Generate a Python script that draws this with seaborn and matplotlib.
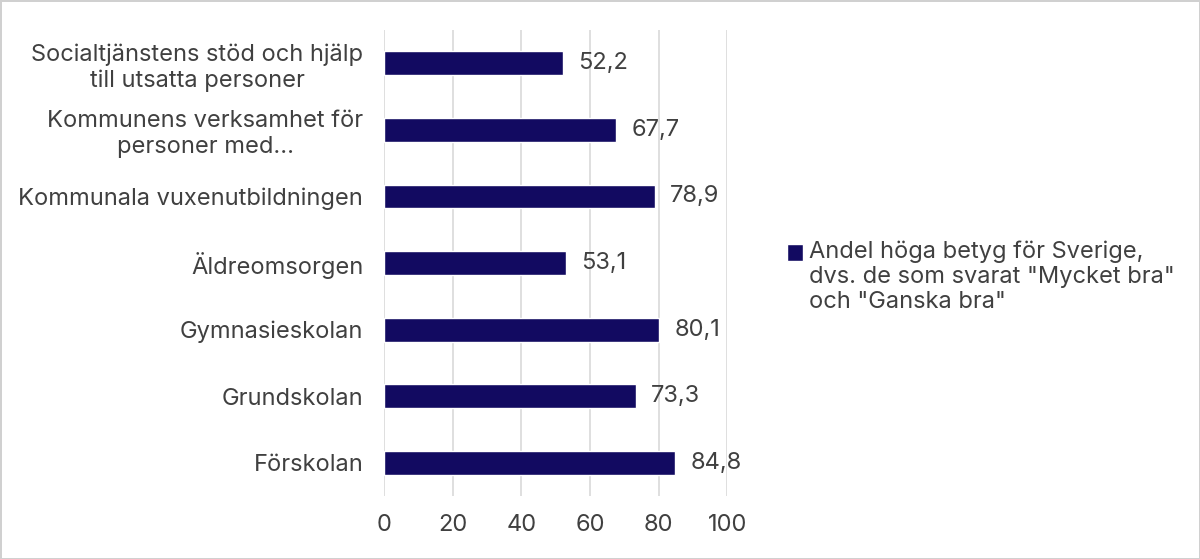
import pandas as pd
import seaborn as sns
import matplotlib.pyplot as plt

kategorier = ['Socialtjänstens stöd och hjälp\ntill utsatta personer',
              'Kommunens verksamhet för\npersoner med...',
              'Kommunala vuxenutbildningen',
              'Äldreomsorgen',
              'Gymnasieskolan',
              'Grundskolan',
              'Förskolan']
andel = [52.2, 67.7, 78.9, 53.1, 80.1, 73.3, 84.8]
serie = 'Andel höga betyg för Sverige,\ndvs. de som svarat "Mycket bra"\noch "Ganska bra"'
xticks = [0, 20, 40, 60, 80, 100]

sns.set_style('white')
plt.rcParams['font.family'] = ['Inter', 'DejaVu Sans']
textfarg = '#404040'
fs = 17

df = pd.DataFrame({'kategori': kategorier, 'andel': andel, 'serie': serie})

fig = plt.figure(figsize=(12, 5.59), dpi=100)
fig.patch.set_edgecolor('#d0d0d0')
fig.patch.set_linewidth(2)
ax = fig.add_axes([0.32, 0.113, 0.286, 0.833])

sns.barplot(data=df, x='andel', y='kategori', hue='serie', orient='h',
            palette=['#120A61'], saturation=1, width=0.36, ax=ax, legend=True)

ax.bar_label(ax.containers[0], labels=[f'{v:.1f}'.replace('.', ',') for v in andel],
             padding=11, fontsize=fs, color=textfarg)

ax.set_xlim(0, 100)
ax.set_ylim(6.5, -0.5)
ax.set_xticks(xticks)
ax.set_xlabel('')
ax.set_ylabel('')
ax.grid(axis='x', color='#d9d9d9', linewidth=1.2)
ax.set_axisbelow(True)
for s in ax.spines.values():
    s.set_visible(False)
ax.tick_params(axis='x', length=0, pad=13, labelsize=fs, labelcolor=textfarg)
ax.tick_params(axis='y', length=0, pad=15, labelsize=fs, labelcolor=textfarg)
for t in ax.get_yticklabels():
    t.set_multialignment('center')

h, l = ax.get_legend_handles_labels()
ax.get_legend().remove()
leg = fig.legend(h, l, loc='center left', bbox_to_anchor=(0.638, 0.505), frameon=False,
                 handlelength=0.7, handleheight=0.7, handletextpad=0.25,
                 fontsize=fs, labelcolor=textfarg)

# flytta rutan upp till första raden
fig.canvas.draw()
tb = leg.get_texts()[0].get_window_extent()
ruta = leg.legend_handles[0]
rb = ruta.get_window_extent()
rad = tb.height / 3
mal = tb.y1 - rad / 2
skift = (mal - (rb.y0 + rb.y1) / 2) * 72 / fig.dpi
ruta.set_y(ruta.get_y() + skift)

plt.savefig('out.png', dpi=100)
